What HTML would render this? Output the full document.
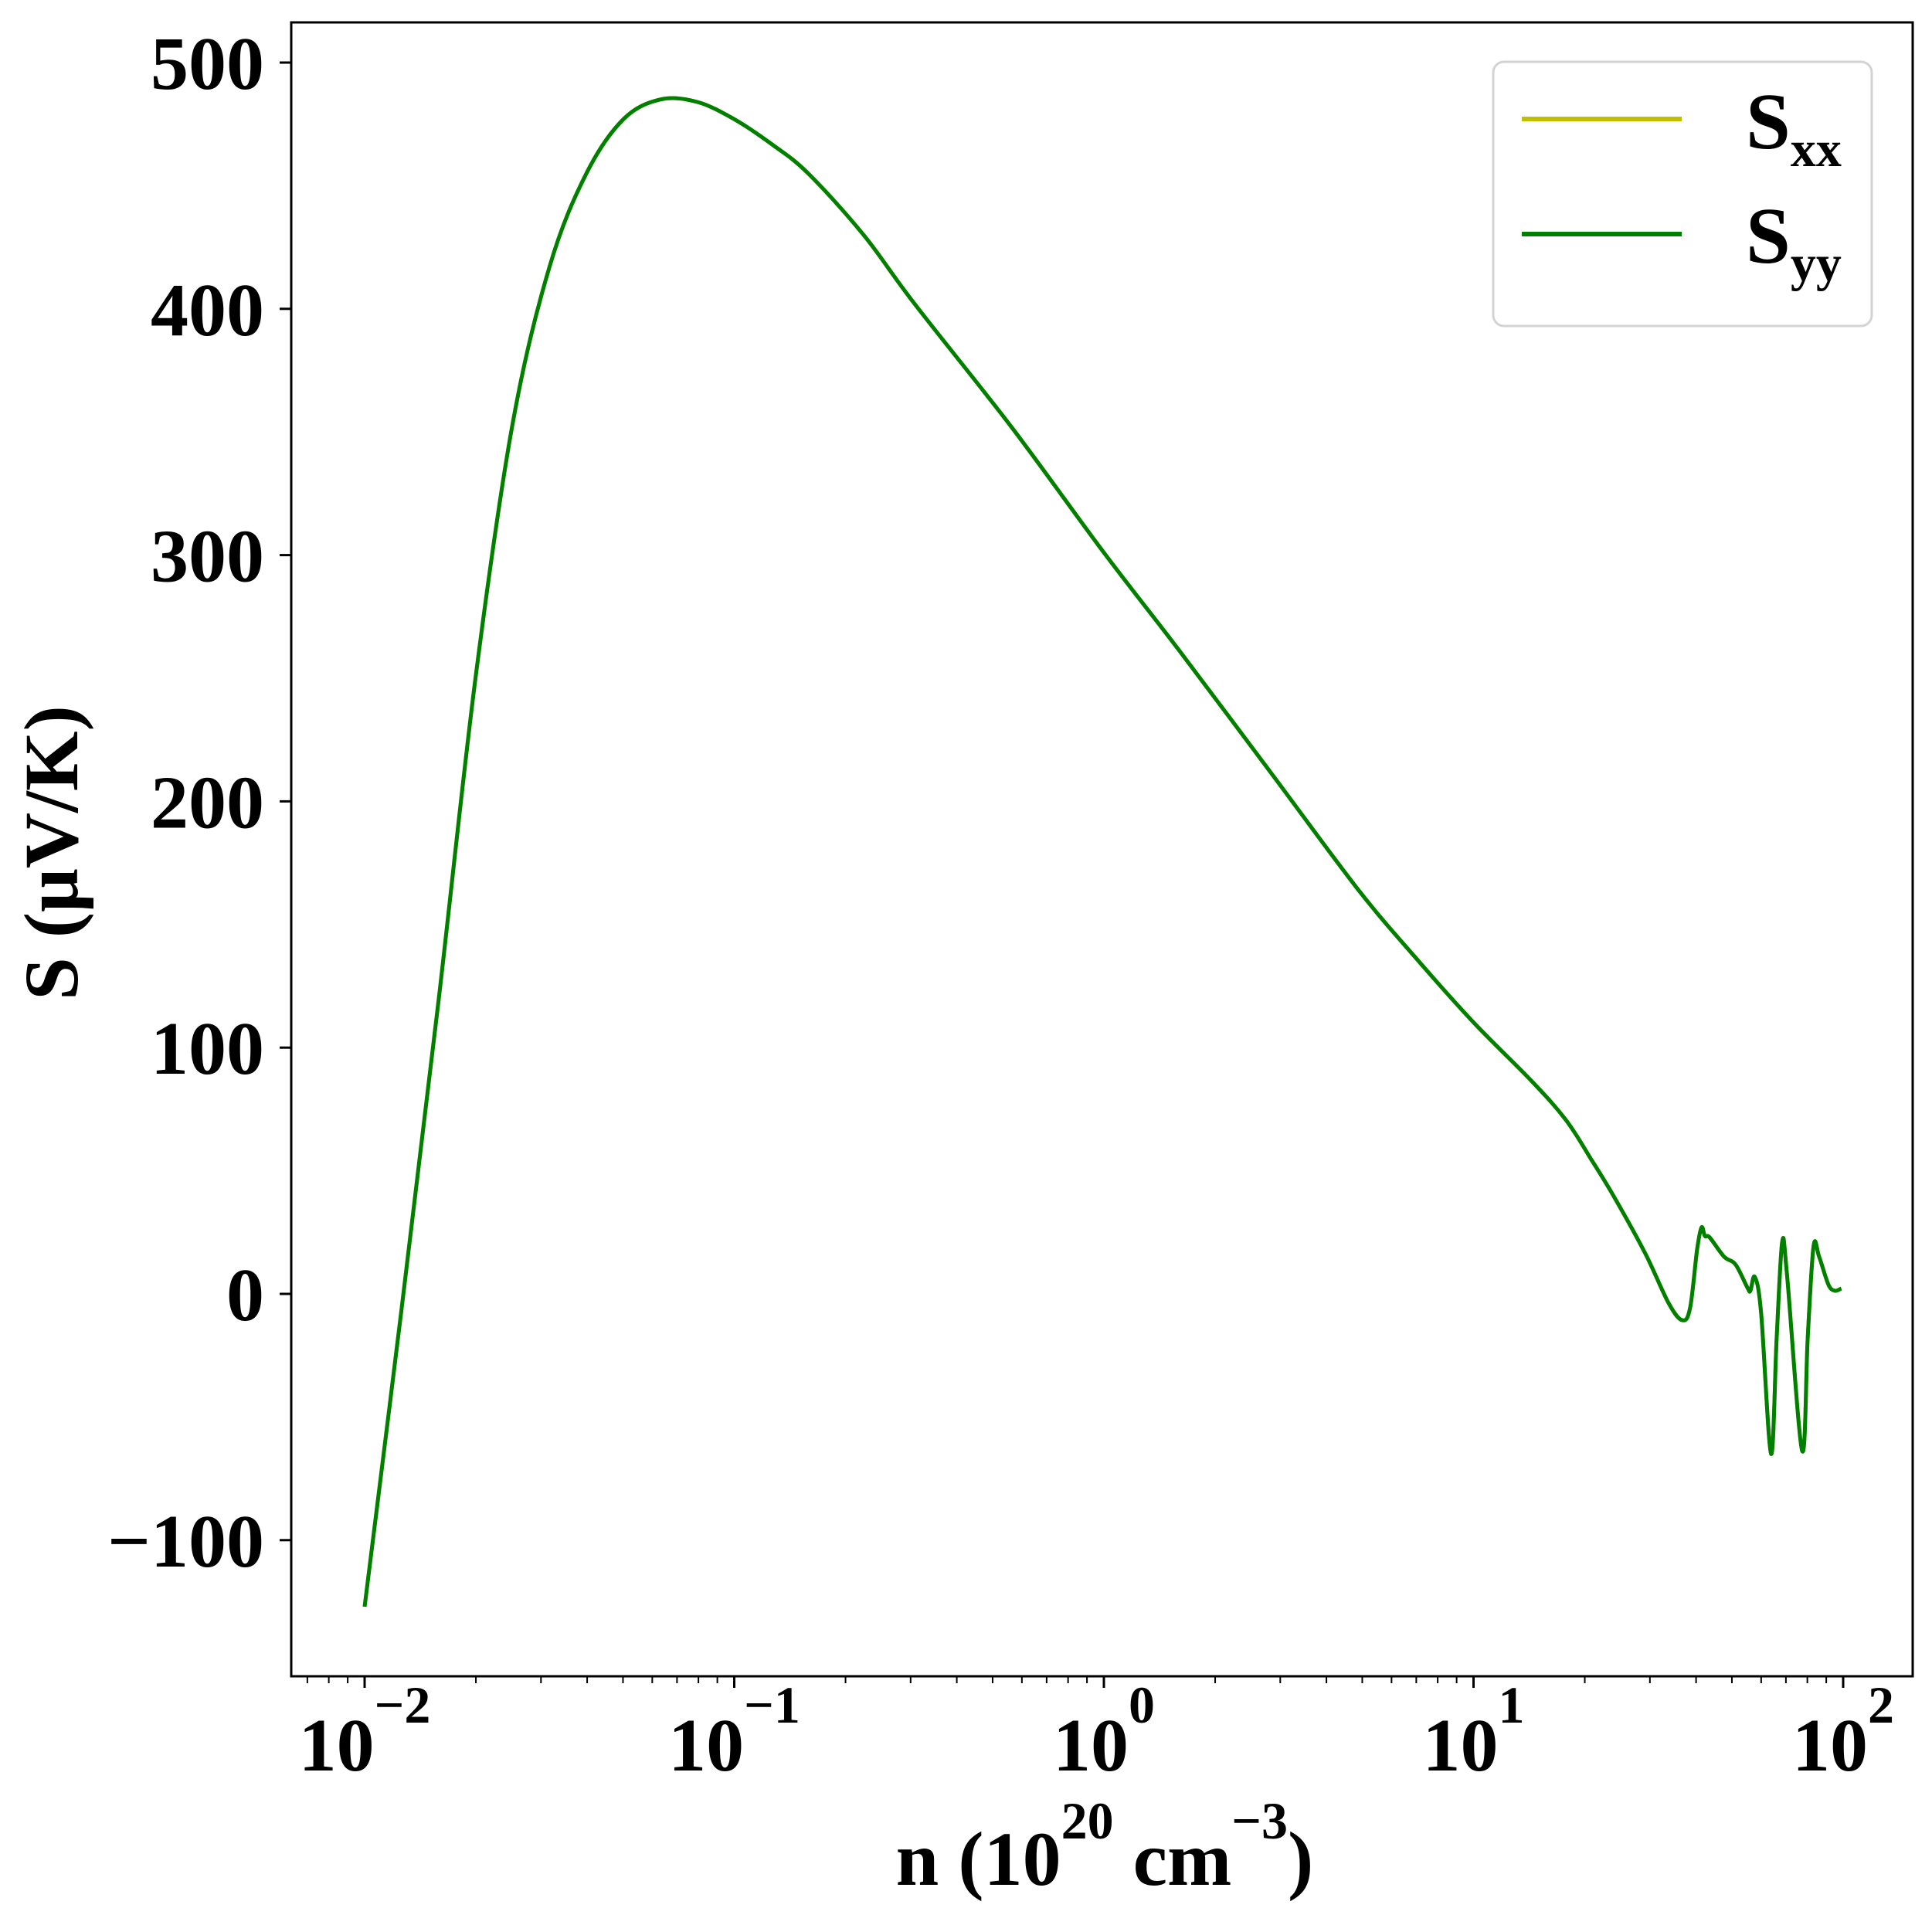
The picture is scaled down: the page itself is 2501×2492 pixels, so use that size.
<!DOCTYPE html>
<html><head><meta charset="utf-8"><style>
html,body{margin:0;padding:0;background:#fff;}
svg{display:block;}
text{font-family:"Liberation Serif","DejaVu Serif",serif;font-weight:bold;fill:#000;}
</style></head><body>
<svg id="chart" width="2501" height="2492" viewBox="0 0 2501 2492" xmlns="http://www.w3.org/2000/svg">
<rect width="2501" height="2492" fill="#fff"/>
<g id="ticks"></g>
<g id="series"></g>
<rect x="377" y="29" width="2099" height="2141" fill="none" stroke="#000" stroke-width="3"/>
<g>
<rect x="1933" y="80" width="490" height="342" rx="14" fill="#fff" fill-opacity="0.8" stroke="#d3d3d3" stroke-width="3"/>
<line x1="1970" y1="154" x2="2177" y2="154" stroke="#bfbf00" stroke-width="6"/>
<text x="2260" y="192" font-size="104">S<tspan font-size="66" dy="23">xx</tspan></text>
<line x1="1970" y1="303" x2="2177" y2="303" stroke="#008000" stroke-width="6"/>
<text x="2260" y="340" font-size="104">S<tspan font-size="66" dy="23">yy</tspan></text>
</g>
<text x="1430" y="2440" font-size="100" text-anchor="middle">n (10<tspan font-size="68" dy="-60">20</tspan><tspan dy="60"> cm</tspan><tspan font-size="68" dy="-60">−3</tspan><tspan dy="60">)</tspan></text>
<text transform="translate(100,1104) rotate(-90)" font-size="100" text-anchor="middle">S (μV/K)</text>
</svg>
<script>
const logN = [-2,-1.9,-1.8,-1.7,-1.6,-1.5,-1.4,-1.3,-1.2,-1.1,-1.0,-0.9,-0.8,-0.65,-0.512,-0.25,0,0.2,0.45,0.685,0.844,0.999,1.158,1.25,1.319,1.381,1.465,1.528,1.565,1.586,1.605,1.617,1.626,1.639,1.678,1.709,1.741,1.749,1.761,1.778,1.805,1.82,1.835,1.848,1.889,1.904,1.92,1.935,1.96,1.977,1.995];
const sxx = [-127,-6,119,250,353,417,455,477,485,484,477,467,455,430,402,352,301,262,212,164.7,136.4,110.4,86.3,70.6,54.5,39.2,16.3,-3.8,-10.7,-5.6,18.2,27,23.5,22.9,15.1,11.9,2.5,1.3,6.9,-7.8,-65,-18,21,7.8,-63.7,-18,19.4,15.1,3.8,1.3,2.2];
const syy = [-127,-6,119,250,353,417,455,477,485,484,477,467,455,430,402,352,301,262,212,164.7,136.4,110.4,86.3,70.6,54.5,39.2,16.3,-3.8,-10.7,-5.6,18.2,27,23.5,22.9,15.1,11.9,2.5,1.3,6.9,-7.8,-65,-18,21,7.8,-63.7,-18,19.4,15.1,3.8,1.3,2.2];
const yTicks = [-100,0,100,200,300,400,500];
const yTickLabels = ["−100","0","100","200","300","400","500"];
const xTickExp = [-2,-1,0,1,2];
const xTickLabels = ["−2","−1","0","1","2"];

const NS = "http://www.w3.org/2000/svg";
function xs(l){ return 472 + (l + 2) * 478.5; }
function ys(v){ return 1675 - v * 3.188; }
function mk(tag, attrs, parent){ const e = document.createElementNS(NS, tag); for (const k in attrs) e.setAttribute(k, attrs[k]); parent.appendChild(e); return e; }

const tg = document.getElementById('ticks');
yTicks.forEach((v, i) => {
  const t = mk('line', {x1: 362, x2: 377, y1: ys(v), y2: ys(v), stroke: '#000', 'stroke-width': 3}, tg);
  
  
  const tx = mk('text', {x: 342, y: ys(v) + 34, 'font-size': 98, 'text-anchor': 'end'}, tg);
  tx.textContent = yTickLabels[i];
  
  
});
xTickExp.forEach((e, i) => {
  const x = xs(e);
  const t = mk('line', {x1: x, x2: x, y1: 2170, y2: 2185, stroke: '#000', 'stroke-width': 3}, tg);
  
  
  const tx = mk('text', {x: x, y: 2292, 'font-size': 98, 'text-anchor': 'middle'}, tg);
  
  
  const a = mk('tspan', {}, tx); a.textContent = '10';
  const b = mk('tspan', {'font-size': 68, dy: -62}, tx); b.textContent = xTickLabels[i];
});
for (let e = -3; e <= 2; e++) {
  for (let m = 2; m <= 9; m++) {
    const l = e + Math.log10(m);
    const x = xs(l);
    if (x < 378 || x > 2475) continue;
    const t = mk('line', {x1: x, x2: x, y1: 2170, y2: 2179, stroke: '#000', 'stroke-width': 2}, tg);
    
    
  }
}

function pathFor(vals){
  const p = logN.map((l, i) => [xs(l), ys(vals[i])]);
  let d = 'M' + p[0][0].toFixed(1) + ',' + p[0][1].toFixed(1);
  for (let i = 0; i < p.length - 1; i++) {
    const p0 = p[Math.max(0, i - 1)], p1 = p[i], p2 = p[i + 1], p3 = p[Math.min(p.length - 1, i + 2)];
    const c1 = [p1[0] + (p2[0] - p0[0]) / 6, p1[1] + (p2[1] - p0[1]) / 6];
    const c2 = [p2[0] - (p3[0] - p1[0]) / 6, p2[1] - (p3[1] - p1[1]) / 6];
    d += ' C' + c1[0].toFixed(1) + ',' + c1[1].toFixed(1) + ' ' + c2[0].toFixed(1) + ',' + c2[1].toFixed(1) + ' ' + p2[0].toFixed(1) + ',' + p2[1].toFixed(1);
  }
  return d;
}
const sg = document.getElementById('series');
const l1 = mk('path', {d: pathFor(sxx), fill: 'none', stroke: '#bfbf00', 'stroke-width': 5, 'stroke-linejoin': 'round'}, sg);


const l2 = mk('path', {d: pathFor(syy), fill: 'none', stroke: '#008000', 'stroke-width': 5, 'stroke-linejoin': 'round'}, sg);


</script>
</body></html>
